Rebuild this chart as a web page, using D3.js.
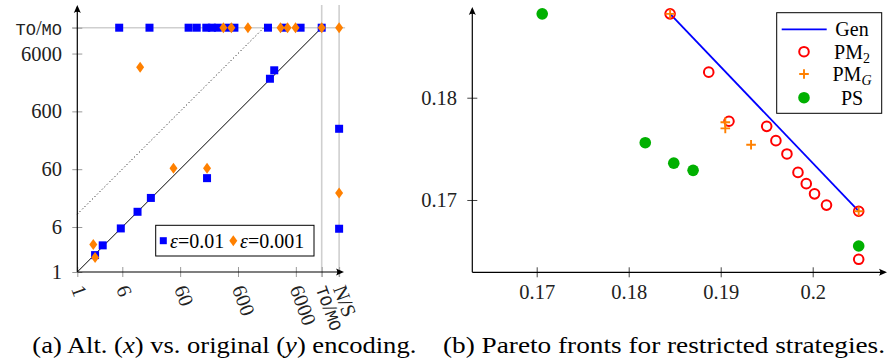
<!DOCTYPE html>
<html>
<head>
<meta charset="utf-8">
<script src="https://cdnjs.cloudflare.com/ajax/libs/d3/7.8.5/d3.min.js"></script>
<style>
body { margin: 0; background: #fff; }
</style>
</head>
<body>
<svg width="888" height="362"></svg>
<script>
// special values on the log axes: timeout / memout, and no solution
var TOMO = 16800;
var NS = 33600;

// (a) alt. encoding (x) vs original encoding (y), eps = 0.01
var eps1X = [5.3, 17.7, 84, 116, 170, 212, 269, 409, 520, 1980, 3750, 7250, TOMO,
  2.03, 2.75, 5.65, 11, 18.7, 175, 2140, 2540, NS, NS];
var eps1Y = [TOMO, TOMO, TOMO, TOMO, TOMO, TOMO, TOMO, TOMO, TOMO, TOMO, TOMO, TOMO, TOMO,
  1.96, 2.89, 5.67, 11, 19.1, 42, 2200, 3080, 300, 5.6];

// eps = 0.001
var eps2X = [335, 461, 891, 3260, 4310, 5930, TOMO, NS, 1.89, 2.03, 46, 175, 12.2, NS];
var eps2Y = [TOMO, TOMO, TOMO, TOMO, TOMO, TOMO, TOMO, TOMO, 3.0, 1.79, 62, 62, 3470, 23.3];

var ticksAy = [1, 6, 60, 600, 6000, TOMO];
var labelsAy = ["1", "6", "60", "600", "6000", "TO/MO"];
var ticksAx = [1, 6, 60, 600, 6000, TOMO, NS];
var labelsAx = ["1", "6", "60", "600", "6000", "TO/MO", "N/S"];

// (b) pareto fronts
var genX = [0.1845, 0.2050];
var genY = [0.1882, 0.1689];
var pm2X = [0.1845, 0.1887, 0.1909, 0.1950, 0.1960, 0.1972, 0.1984, 0.1993, 0.2002, 0.2015, 0.2050, 0.2050];
var pm2Y = [0.1882, 0.1825, 0.1777, 0.1772, 0.1758, 0.1745, 0.1727, 0.1716, 0.1706, 0.1695, 0.1689, 0.1642];
var pmgX = [0.1845, 0.1905, 0.1905, 0.1933, 0.2050];
var pmgY = [0.1882, 0.1776, 0.1770, 0.1754, 0.1689];
var psX = [0.1706, 0.1818, 0.1849, 0.1870, 0.2050];
var psY = [0.1882, 0.1756, 0.1736, 0.1729, 0.1655];

var ticksBx = [0.17, 0.18, 0.19, 0.2];
var labelsBx = ["0.17", "0.18", "0.19", "0.2"];
var ticksBy = [0.17, 0.18];

var BLUE = "#0000ff", ORANGE = "#ff8000", RED = "#ff0000", GREEN = "#00b000";
var SERIF = "'Liberation Serif', serif";
var MONO = "'Liberation Mono', monospace";

var svg = d3.select("svg");

// small filled arrow head at the end of an axis
function arrowHead(g, x, y, dir) {
  var p = dir == "up"
    ? "M" + x + "," + y + "L" + (x - 3.5) + "," + (y + 8) + "Q" + x + "," + (y + 5.5) + " " + (x + 3.5) + "," + (y + 8) + "Z"
    : "M" + x + "," + y + "L" + (x - 8) + "," + (y - 3.5) + "Q" + (x - 5.5) + "," + y + " " + (x - 8) + "," + (y + 3.5) + "Z";
  g.append("path").attr("d", p).attr("fill", "#000");
}

function zip(xs, ys) {
  return xs.map(function (d, i) { return [d, ys[i]]; });
}

// ---------------- chart (a) ----------------
var xA = d3.scaleLog().domain([1, TOMO]).range([77.3, 321.7]);
var yA = d3.scaleLog().domain([1, TOMO]).range([272, 27.7]);
var gA = svg.append("g");

// gray guide lines for TO/MO and N/S
gA.append("line")
  .attr("x1", 72).attr("x2", xA(NS) + 6)
  .attr("y1", yA(TOMO)).attr("y2", yA(TOMO))
  .attr("stroke", "#cfcfcf").attr("stroke-width", 1.6);
[TOMO, NS].forEach(function (v) {
  gA.append("line")
    .attr("x1", xA(v)).attr("x2", xA(v))
    .attr("y1", 5).attr("y2", 277)
    .attr("stroke", "#cfcfcf").attr("stroke-width", 1.6);
});

// y axis ticks + labels
var axAy = gA.append("g")
  .attr("transform", "translate(" + xA(1) + ",0)")
  .call(d3.axisLeft(yA).tickValues(ticksAy)
    .tickFormat(function (d, i) { return labelsAy[i]; })
    .tickSize(5).tickPadding(10.3))
  .attr("font-size", 20.5);
axAy.select(".domain").remove();
axAy.selectAll(".tick line").attr("x1", 5).attr("stroke", "#999");
axAy.selectAll(".tick text").attr("fill", "#222");

// x axis ticks + rotated labels
var axAx = gA.append("g")
  .attr("transform", "translate(0," + yA(1) + ")")
  .call(d3.axisBottom(xA).tickValues(ticksAx)
    .tickFormat(function (d, i) { return labelsAx[i]; })
    .tickSize(5))
  .attr("font-size", 20.5);
axAx.select(".domain").remove();
axAx.selectAll(".tick line").attr("y1", -5).attr("stroke", "#999");
axAx.selectAll(".tick text")
  .attr("fill", "#222")
  .attr("y", 0).attr("dy", "0.35em")
  .attr("text-anchor", "start")
  .attr("transform", "translate(0,14) rotate(70)");

// diagonal y = x and dotted y = 10x
gA.append("line")
  .attr("x1", xA(1)).attr("y1", yA(1))
  .attr("x2", xA(TOMO)).attr("y2", yA(TOMO))
  .attr("stroke", "#000").attr("stroke-width", 1);
gA.append("line")
  .attr("x1", xA(1)).attr("y1", yA(10))
  .attr("x2", xA(TOMO / 10)).attr("y2", yA(TOMO))
  .attr("stroke", "#000").attr("stroke-width", 1).attr("stroke-dasharray", "1,2.5");

// axis lines
gA.append("line").attr("x1", xA(1)).attr("x2", xA(1)).attr("y1", yA(1)).attr("y2", 7)
  .attr("stroke", "#000").attr("stroke-width", 1.2);
gA.append("line").attr("x1", xA(1)).attr("x2", 342).attr("y1", yA(1)).attr("y2", yA(1))
  .attr("stroke", "#000").attr("stroke-width", 1.2);
arrowHead(gA, xA(1), 5, "up");
arrowHead(gA, 344, yA(1), "right");

// eps = 0.01 squares
gA.selectAll("rect.e1")
  .data(zip(eps1X, eps1Y))
  .enter()
  .append("rect")
  .attr("class", "e1")
  .attr("x", function (d) { return xA(d[0]) - 4; })
  .attr("y", function (d) { return yA(d[1]) - 4; })
  .attr("width", 8).attr("height", 8)
  .attr("fill", BLUE);

// eps = 0.001 diamonds
function diamond(cx, cy) {
  return "M" + cx + "," + (cy - 5.5) + "L" + (cx + 4) + "," + cy + "L" + cx + "," + (cy + 5.5) + "L" + (cx - 4) + "," + cy + "Z";
}
gA.selectAll("path.e2")
  .data(zip(eps2X, eps2Y))
  .enter()
  .append("path")
  .attr("class", "e2")
  .attr("d", function (d) { return diamond(xA(d[0]), yA(d[1])); })
  .attr("fill", ORANGE);

// legend (a)
gA.append("rect").attr("x", 155.7).attr("y", 225.3).attr("width", 158.3).attr("height", 30.7)
  .attr("fill", "#fff").attr("stroke", "#000").attr("stroke-width", 1);
gA.append("rect").attr("x", 159.8).attr("y", 237.2).attr("width", 7).attr("height", 7).attr("fill", BLUE);
gA.append("path").attr("d", diamond(233.3, 240.7)).attr("fill", ORANGE);
var lt1 = gA.append("text").attr("x", 170).attr("y", 240.7).attr("dy", "0.35em").attr("font-size", "20px");
lt1.append("tspan").attr("font-style", "italic").text("ε");
lt1.append("tspan").text("=0.01");
var lt2 = gA.append("text").attr("x", 240).attr("y", 240.7).attr("dy", "0.35em").attr("font-size", "20px");
lt2.append("tspan").attr("font-style", "italic").text("ε");
lt2.append("tspan").text("=0.001");

// ---------------- chart (b) ----------------
var xB = d3.scaleLinear().domain([0.163, 0.208]).range([472.3, 886.3]);
var yB = d3.scaleLinear().domain([0.16293, 0.18887]).range([272.3, 7]);
var gB = svg.append("g");

var axBy = gB.append("g")
  .attr("transform", "translate(" + xB(0.163) + ",0)")
  .call(d3.axisLeft(yB).tickValues(ticksBy).tickFormat(d3.format(".2f"))
    .tickSize(5).tickPadding(10.3))
  .attr("font-size", 20.5);
axBy.select(".domain").remove();
axBy.selectAll(".tick line").attr("x1", 5).attr("stroke", "#444");
axBy.selectAll(".tick text").attr("fill", "#222");

var axBx = gB.append("g")
  .attr("transform", "translate(0," + yB(0.16293) + ")")
  .call(d3.axisBottom(xB).tickValues(ticksBx)
    .tickFormat(function (d, i) { return labelsBx[i]; })
    .tickSize(5).tickPadding(7.1))
  .attr("font-size", 20.5);
axBx.select(".domain").remove();
axBx.selectAll(".tick line").attr("y1", -5).attr("stroke", "#444");
axBx.selectAll(".tick text").attr("fill", "#222");

gB.append("line").attr("x1", xB(0.163)).attr("x2", xB(0.163)).attr("y1", yB(0.16293)).attr("y2", 9)
  .attr("stroke", "#000").attr("stroke-width", 1.2);
gB.append("line").attr("x1", xB(0.163)).attr("x2", 885).attr("y1", yB(0.16293)).attr("y2", yB(0.16293))
  .attr("stroke", "#000").attr("stroke-width", 1.2);
arrowHead(gB, xB(0.163), 7, "up");
arrowHead(gB, 887, yB(0.16293), "right");

// Gen line
gB.append("path")
  .datum(zip(genX, genY))
  .attr("d", d3.line().x(function (d) { return xB(d[0]); }).y(function (d) { return yB(d[1]); }))
  .attr("fill", "none").attr("stroke", BLUE).attr("stroke-width", 1.8);

// PS filled circles
gB.selectAll("circle.ps")
  .data(zip(psX, psY))
  .enter()
  .append("circle")
  .attr("class", "ps")
  .attr("cx", function (d) { return xB(d[0]); })
  .attr("cy", function (d) { return yB(d[1]); })
  .attr("r", 5.8)
  .attr("fill", GREEN);

// PM2 open circles
gB.selectAll("circle.pm2")
  .data(zip(pm2X, pm2Y))
  .enter()
  .append("circle")
  .attr("class", "pm2")
  .attr("cx", function (d) { return xB(d[0]); })
  .attr("cy", function (d) { return yB(d[1]); })
  .attr("r", 4.8)
  .attr("fill", "none").attr("stroke", RED).attr("stroke-width", 2);

// PM_G plus
function plus(cx, cy) {
  return "M" + (cx - 4.8) + "," + cy + "H" + (cx + 4.8) + "M" + cx + "," + (cy - 4.8) + "V" + (cy + 4.8);
}
gB.selectAll("path.pmg")
  .data(zip(pmgX, pmgY))
  .enter()
  .append("path")
  .attr("class", "pmg")
  .attr("d", function (d) { return plus(xB(d[0]), yB(d[1])); })
  .attr("stroke", ORANGE).attr("stroke-width", 1.9);

// legend (b)
gB.append("rect").attr("x", 776.7).attr("y", 12.7).attr("width", 105).attr("height", 100.6)
  .attr("fill", "#fff").attr("stroke", "#000").attr("stroke-width", 1);
gB.append("line").attr("x1", 781.7).attr("x2", 826.7).attr("y1", 29.3).attr("y2", 29.3)
  .attr("stroke", BLUE).attr("stroke-width", 1.8);
gB.append("circle").attr("cx", 804).attr("cy", 51.7).attr("r", 4.8)
  .attr("fill", "none").attr("stroke", RED).attr("stroke-width", 2);
gB.append("path").attr("d", plus(804, 74)).attr("stroke", ORANGE).attr("stroke-width", 1.9);
gB.append("circle").attr("cx", 804).attr("cy", 97.7).attr("r", 5.8).attr("fill", GREEN);

function legendText(y, main, sub, subItalic) {
  var t = gB.append("text").attr("x", 852).attr("y", y).attr("dy", "0.35em")
    .attr("text-anchor", "middle").attr("font-size", "20px");
  t.append("tspan").text(main);
  if (sub) {
    t.append("tspan").attr("font-size", "14px").attr("dy", "4")
      .attr("font-style", subItalic ? "italic" : null).text(sub);
  }
}
legendText(29.3, "Gen");
legendText(51.7, "PM", "2", false);
legendText(74, "PM", "G", true);
legendText(97.7, "PS");

// ---------------- captions ----------------
var capA = svg.append("text").attr("x", 32.3).attr("y", 353).attr("font-size", "24px")
  .attr("textLength", 384).attr("lengthAdjust", "spacingAndGlyphs");
capA.append("tspan").text("(a) Alt. (");
capA.append("tspan").attr("font-style", "italic").text("x");
capA.append("tspan").text(") vs. original (");
capA.append("tspan").attr("font-style", "italic").text("y");
capA.append("tspan").text(") encoding.");

svg.append("text").attr("x", 443).attr("y", 353).attr("font-size", "24px")
  .attr("textLength", 442).attr("lengthAdjust", "spacingAndGlyphs")
  .text("(b) Pareto fronts for restricted strategies.");

// every text in a serif face, set inline so it beats the axis defaults
svg.selectAll("text").style("font-family", SERIF);

// TO/MO labels in typewriter font with a roman slash
svg.selectAll(".tick text").each(function () {
  var t = d3.select(this);
  if (t.text() == "TO/MO") {
    t.text("");
    t.append("tspan").style("font-family", MONO).attr("font-size", "17px").text("TO");
    t.append("tspan").text("/");
    t.append("tspan").style("font-family", MONO).attr("font-size", "17px").text("MO");
  }
});
</script>
</body>
</html>
